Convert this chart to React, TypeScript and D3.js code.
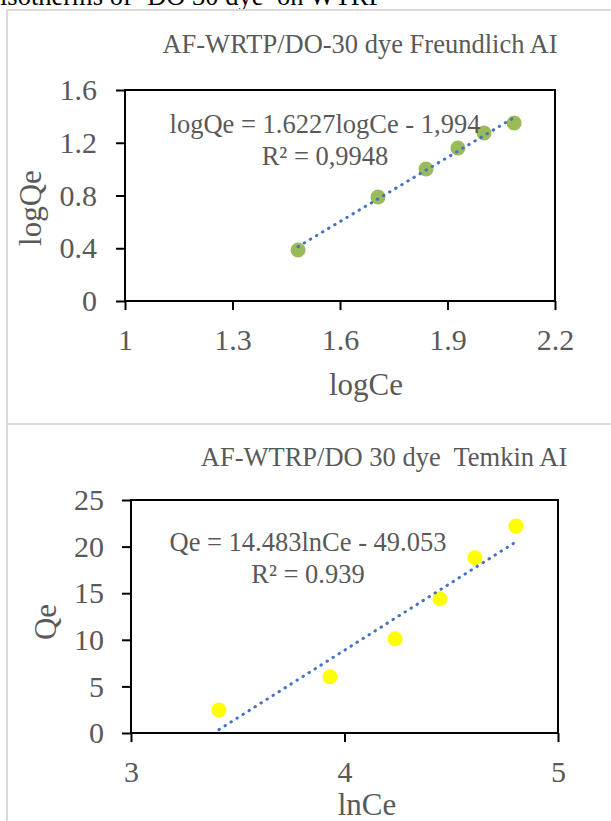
import React, { useEffect, useRef } from 'react';
import * as d3 from 'd3';

// Freundlich panel
const logCe = [1.483, 1.706, 1.84, 1.929, 2.002, 2.086];
const logQe = [0.387, 0.789, 1.001, 1.16, 1.274, 1.35];
const freundlichXTicks = [1, 1.3, 1.6, 1.9, 2.2];
const freundlichYTicks = [0, 0.4, 0.8, 1.2, 1.6];
const freundlichFit = [1.6227, -1.994];

// Temkin panel
const lnCe = [3.412, 3.932, 4.237, 4.447, 4.611, 4.803];
const qe = [2.47, 6.04, 10.1, 14.4, 18.8, 22.2];
const temkinXTicks = [3, 4, 5];
const temkinYTicks = [0, 5, 10, 15, 20, 25];
const temkinFit = [14.483, -49.053];

const FONT = "'Liberation Serif', 'Times New Roman', serif";
const GREY = '#595959';

type Panel = {
    xs: number[];
    ys: number[];
    xTicks: number[];
    yTicks: number[];
    fit: number[];
    box: { left: number; right: number; top: number; bottom: number };
    color: string;
    title: string;
    titlePos: [number, number];
    eq: string;
    r2: string;
    eqPos: [number, number];
    xLabel: string;
    xLabelPos: [number, number];
    yLabel: string;
    yLabelPos: [number, number];
    yPad: number;
};

const drawPanel = (svg: d3.Selection<SVGSVGElement, unknown, null, undefined>, p: Panel) => {
    const { box } = p;
    const x = d3.scaleLinear()
        .domain([p.xTicks[0], p.xTicks[p.xTicks.length - 1]])
        .range([box.left, box.right]);
    const y = d3.scaleLinear()
        .domain([p.yTicks[0], p.yTicks[p.yTicks.length - 1]])
        .range([box.bottom, box.top]);

    const g = svg.append('g');

    // axes
    const xAxis = g.append('g')
        .attr('transform', `translate(0,${box.bottom})`)
        .call(d3.axisBottom(x).tickValues(p.xTicks).tickSize(9).tickSizeOuter(0).tickPadding(19).tickFormat(d => String(d)));
    const yAxis = g.append('g')
        .attr('transform', `translate(${box.left},0)`)
        .call(d3.axisLeft(y).tickValues(p.yTicks).tickSize(9).tickSizeOuter(0).tickPadding(p.yPad).tickFormat(d => String(d)));
    [xAxis, yAxis].forEach(a => {
        a.select('.domain').remove();
        a.selectAll('line').attr('stroke', '#000').attr('stroke-width', 2);
        a.selectAll('text')
            .attr('fill', GREY)
            .style('font-family', FONT)
            .style('font-size', '30px');
    });

    // frame
    g.append('rect')
        .attr('x', box.left)
        .attr('y', box.top)
        .attr('width', box.right - box.left)
        .attr('height', box.bottom - box.top)
        .attr('fill', 'none')
        .attr('stroke', '#000')
        .attr('stroke-width', 2);

    // trendline across the data range
    const ends = [p.xs[0], p.xs[p.xs.length - 1]];
    const line = d3.line<number>()
        .x(d => x(d))
        .y(d => y(p.fit[0] * d + p.fit[1]));
    g.append('path')
        .datum(ends)
        .attr('d', line)
        .attr('fill', 'none')
        .attr('stroke', '#4472C4')
        .attr('stroke-width', 3)
        .attr('stroke-linecap', 'round')
        .attr('stroke-dasharray', '0.5 6.6');

    // points
    g.selectAll('.pt')
        .data(p.xs)
        .enter()
        .append('circle')
        .attr('class', 'pt')
        .attr('cx', d => x(d))
        .attr('cy', (d, i) => y(p.ys[i]))
        .attr('r', 7.5)
        .attr('fill', p.color);

    // point markers sit under the trendline in the original
    g.select('path').raise();

    const text = (t: string, px: number, py: number, size: number, anchor = 'middle') =>
        g.append('text')
            .attr('x', px)
            .attr('y', py)
            .attr('text-anchor', anchor)
            .attr('fill', GREY)
            .style('font-family', FONT)
            .style('font-size', `${size}px`)
            .style('white-space', 'pre')
            .text(t);

    text(p.title, p.titlePos[0], p.titlePos[1], 26.5);
    text(p.eq, p.eqPos[0], p.eqPos[1], 26.5);
    text(p.r2, p.eqPos[0], p.eqPos[1] + 32, 26.5);
    text(p.xLabel, p.xLabelPos[0], p.xLabelPos[1], 31);
    text(p.yLabel, 0, 0, 31)
        .attr('transform', `translate(${p.yLabelPos[0]},${p.yLabelPos[1]}) rotate(-90)`);
};

const App = () => {
    const ref = useRef<SVGSVGElement>(null);

    useEffect(() => {
        const svg = d3.select(ref.current!);
        svg.selectAll('*').remove();

        // caption cut off at the top of the page
        svg.append('text')
            .attr('x', 0)
            .attr('y', 5)
            .attr('fill', '#000')
            .style('font-family', FONT)
            .style('font-size', '26.5px')
            .text('isotherms of \u2018DO 30 dye\u2019 on WTRP');

        // light panel borders
        const border = '#D9D9D9';
        svg.append('line').attr('x1', 7).attr('x2', 7).attr('y1', 10).attr('y2', 821).attr('stroke', border).attr('stroke-width', 2);
        svg.append('line').attr('x1', 7).attr('x2', 611).attr('y1', 10).attr('y2', 10).attr('stroke', border).attr('stroke-width', 2);
        svg.append('line').attr('x1', 7).attr('x2', 611).attr('y1', 424).attr('y2', 424).attr('stroke', border).attr('stroke-width', 2);

        drawPanel(svg, {
            xs: logCe,
            ys: logQe,
            xTicks: freundlichXTicks,
            yTicks: freundlichYTicks,
            fit: freundlichFit,
            box: { left: 125, right: 555, top: 90, bottom: 301 },
            color: '#9BBB59',
            title: 'AF-WRTP/DO-30 dye Freundlich AI',
            titlePos: [360, 53],
            eq: 'logQe = 1.6227logCe - 1,994',
            r2: 'R\u00B2 = 0,9948',
            eqPos: [325, 133],
            xLabel: 'logCe',
            xLabelPos: [366, 395],
            yLabel: 'logQe',
            yLabelPos: [41, 208],
            yPad: 19,
        });

        drawPanel(svg, {
            xs: lnCe,
            ys: qe,
            xTicks: temkinXTicks,
            yTicks: temkinYTicks,
            fit: temkinFit,
            box: { left: 131, right: 558, top: 500, bottom: 733 },
            color: '#FFFF00',
            title: 'AF-WTRP/DO 30 dye  Temkin AI',
            titlePos: [384, 466],
            eq: 'Qe = 14.483lnCe - 49.053',
            r2: 'R\u00B2 = 0.939',
            eqPos: [308, 551],
            xLabel: 'lnCe',
            xLabelPos: [367, 815],
            yLabel: 'Qe',
            yLabelPos: [56, 622],
            yPad: 18,
        });
    }, []);

    return (
        <svg
            ref={ref}
            width={611}
            height={821}
            style={{ position: 'absolute', left: 0, top: 0, background: '#fff' }}
        />
    );
};

export default App;
